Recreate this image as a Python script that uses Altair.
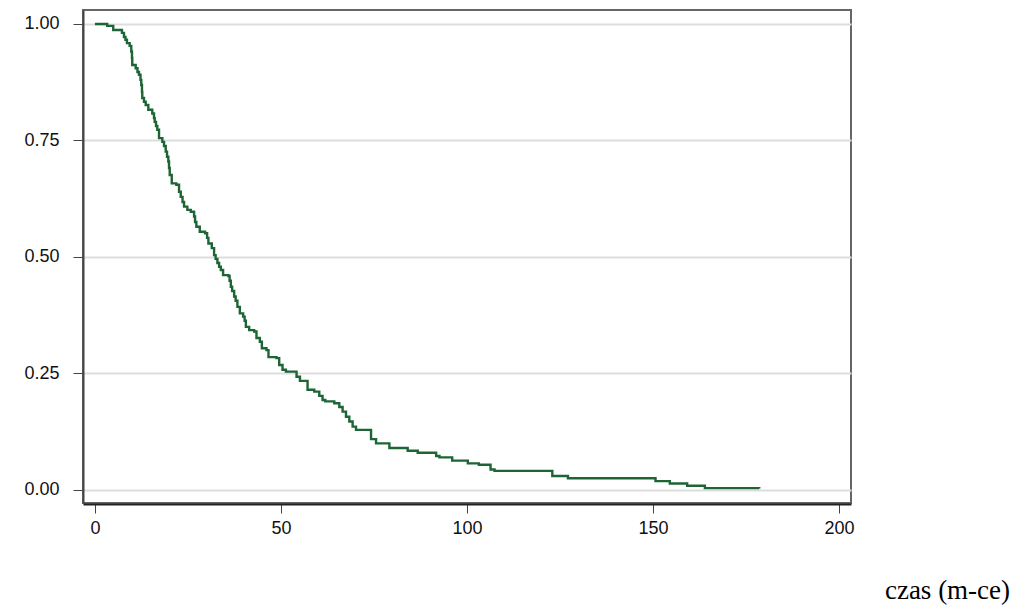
import altair as alt
import pandas as pd

# Kaplan-Meier estimate
times = [0, 3.31, 4.93, 7.27, 7.81, 8.21, 8.61, 9.34, 9.77, 9.96, 10.04, 10.96, 11.44, 11.84,
         12.25, 12.46, 12.65, 12.73, 13.19, 13.65, 14.35, 15.42, 15.88, 16.07, 16.42, 16.77,
         17.23, 18.12, 18.57, 19.03, 19.38, 19.73, 19.92, 20.11, 20.65, 21.88, 22.61, 23.07,
         23.55, 23.96, 24.84, 25.76, 26.65, 26.92, 27.27, 28.18, 29.61, 30.15, 30.50, 31.41,
         32.03, 32.44, 32.92, 33.38, 33.84, 34.45, 35.88, 36.20, 36.53, 36.88, 37.42, 37.82,
         38.30, 38.95, 39.84, 40.24, 40.57, 41.45, 42.80, 43.42, 44.33, 44.87, 46.11, 46.65,
         48.80, 49.53, 50.42, 51.33, 54.19, 55.10, 57.15, 58.95, 60.30, 61.18, 61.91, 64.33,
         65.68, 66.57, 67.48, 68.37, 69.26, 70.17, 74.21, 75.56, 79.14, 84.06, 86.76, 91.71,
         92.60, 96.02, 100.22, 103.18, 106.33, 107.40, 122.93, 127.13, 150.66, 154.51, 159.16,
         163.93, 178.54]
surv = [1.0, 0.996, 0.987, 0.981, 0.972, 0.966, 0.959, 0.953, 0.941, 0.927, 0.912, 0.905,
        0.897, 0.891, 0.880, 0.869, 0.854, 0.841, 0.833, 0.826, 0.816, 0.808, 0.798, 0.790,
        0.781, 0.773, 0.755, 0.747, 0.738, 0.726, 0.715, 0.705, 0.691, 0.676, 0.658, 0.655,
        0.640, 0.629, 0.618, 0.608, 0.601, 0.597, 0.587, 0.575, 0.565, 0.554, 0.551, 0.541,
        0.529, 0.519, 0.504, 0.496, 0.487, 0.479, 0.472, 0.461, 0.459, 0.449, 0.436, 0.427,
        0.415, 0.406, 0.393, 0.379, 0.372, 0.363, 0.350, 0.343, 0.340, 0.326, 0.318, 0.304,
        0.300, 0.285, 0.283, 0.268, 0.258, 0.254, 0.243, 0.234, 0.215, 0.211, 0.202, 0.193,
        0.190, 0.186, 0.178, 0.168, 0.157, 0.147, 0.136, 0.129, 0.109, 0.100, 0.090, 0.084,
        0.080, 0.073, 0.070, 0.063, 0.057, 0.054, 0.044, 0.041, 0.030, 0.025, 0.019, 0.014,
        0.009, 0.004, 0.003]

x_ticks = [0, 50, 100, 150, 200]
y_ticks = [0.0, 0.25, 0.5, 0.75, 1.0]

df = pd.DataFrame({"czas": times, "S": surv})

chart = (
    alt.Chart(df)
    .mark_line(interpolate="step-after", color="#1d6535", strokeWidth=2.4)
    .encode(
        x=alt.X(
            "czas:Q",
            scale=alt.Scale(domain=[-3.2, 203.2], nice=False, zero=False),
            axis=alt.Axis(
                values=x_ticks,
                title="czas (m-ce)",
                titleFont="Liberation Serif",
                titleFontSize=27,
                titleFontWeight="normal",
                titleColor="#000000",
                titleX=864,
                titleY=94,
                titleAlign="center",
                titleBaseline="alphabetic",
                grid=False,
                labelFont="Liberation Sans",
                labelFontSize=18,
                labelColor="#111111",
                labelPadding=6,
                tickSize=9,
                tickColor="#444444",
                tickWidth=1,
                domainColor="#222222",
                domainWidth=2,
                offset=1,
            ),
        ),
        y=alt.Y(
            "S:Q",
            scale=alt.Scale(domain=[-0.028, 1.03], nice=False, zero=False),
            axis=alt.Axis(
                values=y_ticks,
                format=".2f",
                title=None,
                grid=True,
                gridColor="#dddddd",
                gridWidth=2,
                labelFont="Liberation Sans",
                labelFontSize=18,
                labelColor="#111111",
                labelPadding=14,
                tickSize=10,
                tickColor="#444444",
                tickWidth=1,
                domainColor="#444444",
                domainWidth=2,
            ),
        ),
    )
    .properties(
        width=768,
        height=493,
        autosize=alt.AutoSizeParams(type="none"),
        padding={"left": 75, "top": 2, "right": 167, "bottom": 102},
    )
    .configure_view(stroke="#666666", strokeWidth=2)
)

chart.save("out.html", embed_options={"renderer": "svg", "actions": False})
